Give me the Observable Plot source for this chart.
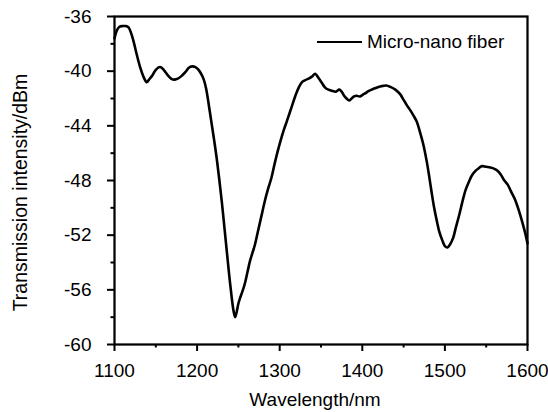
<!DOCTYPE html>
<html>
<head>
<meta charset="utf-8">
<script src="https://cdn.jsdelivr.net/npm/d3@7"></script>
<script src="https://cdn.jsdelivr.net/npm/@observablehq/plot@0.6"></script>
<style>
  html, body { margin: 0; padding: 0; background: #fff; }
  #wrap { position: relative; width: 548px; height: 412px; font-family: "Liberation Sans", Arial, sans-serif; }
  #legend { position: absolute; left: 317px; top: 31px; display: flex; align-items: center; font-size: 19px; color: #000; white-space: nowrap; }
  #legend .sw { display: inline-block; width: 45px; height: 0; border-top: 2.5px solid #000; margin-right: 5px; }
</style>
</head>
<body>
<div id="wrap"><div id="legend"><span class="sw"></span><span>Micro-nano fiber</span></div></div>
<script>
const seriesName = "Micro-nano fiber";
const wavelength = [
  1100,1103,1106,1110,1114,1117,1120,1123,1127,1131,1135,1139,1142,1146,1150,1155,1158,1162,1166,1170,
  1174,1178,1182,1186,1190,1194,1198,1201,1204,1208,1211,1215,1218,1221,1224,1227,1230,1233,1236,1239,
  1242,1244,1246,1248,1250,1252,1255,1258,1261,1264,1267,1270,1273,1276,1279,1282,1286,1290,1293,1297,
  1301,1305,1309,1314,1319,1323,1327,1331,1335,1339,1343,1347,1351,1355,1359,1364,1368,1372,1375,1378,
  1381,1384,1387,1390,1393,1397,1400,1404,1408,1413,1418,1423,1429,1434,1440,1446,1450,1454,1458,1462,
  1466,1470,1474,1478,1481,1484,1487,1490,1493,1497,1500,1503,1506,1510,1513,1517,1521,1525,1529,1533,
  1537,1541,1545,1550,1555,1560,1564,1568,1572,1576,1580,1585,1589,1593,1597,1600
];
const intensity = [
  -37.6,-37.0,-36.75,-36.7,-36.7,-36.8,-37.2,-37.8,-38.8,-39.7,-40.4,-40.8,-40.6,-40.3,-39.9,-39.7,-39.8,-40.1,-40.4,-40.6,
  -40.6,-40.5,-40.3,-40.05,-39.75,-39.65,-39.7,-39.85,-40.1,-40.6,-41.3,-42.8,-44.0,-45.2,-46.5,-48.0,-49.6,-51.4,-53.2,-55.0,
  -56.6,-57.5,-58.0,-57.6,-57.0,-56.6,-56.1,-55.5,-54.7,-53.9,-53.3,-52.7,-51.9,-51.1,-50.3,-49.5,-48.6,-47.8,-47.0,-46.0,
  -45.1,-44.3,-43.6,-42.7,-41.8,-41.2,-40.8,-40.65,-40.55,-40.4,-40.2,-40.5,-40.85,-41.2,-41.35,-41.45,-41.5,-41.35,-41.5,-41.8,
  -42.0,-42.15,-42.0,-41.85,-41.8,-41.85,-41.75,-41.6,-41.45,-41.3,-41.2,-41.1,-41.05,-41.15,-41.35,-41.7,-42.1,-42.5,-42.85,-43.25,
  -43.7,-44.5,-45.4,-46.6,-47.7,-48.9,-50.0,-50.9,-51.7,-52.4,-52.8,-52.9,-52.7,-52.2,-51.5,-50.6,-49.6,-48.7,-48.1,-47.6,
  -47.3,-47.1,-46.95,-47.0,-47.05,-47.15,-47.3,-47.6,-48.0,-48.3,-48.8,-49.4,-50.1,-50.9,-51.8,-52.6
];
const xMajorTicks = [1100, 1200, 1300, 1400, 1500, 1600];
const xMinorTicks = [1150, 1250, 1350, 1450, 1550];
const yMajorTicks = [-60, -56, -52, -48, -44, -40, -36];
const yMinorTicks = [-58, -54, -50, -46, -42, -38];
const xTitle = "Wavelength/nm";
const yTitle = "Transmission intensity/dBm";

const data = wavelength.map((w, i) => ({w, v: intensity[i]}));

const chart = Plot.plot({
  width: 548,
  height: 412,
  marginLeft: 114,
  marginRight: 21,
  marginTop: 16,
  marginBottom: 68,
  style: {fontFamily: "'Liberation Sans', Arial, sans-serif", fontSize: "19px", color: "#000", background: "#fff", overflow: "visible"},
  x: {domain: [1100, 1600]},
  y: {domain: [-60, -36]},
  marks: [
    Plot.axisX({ticks: xMinorTicks, tickSize: 3.5, strokeWidth: 2, text: null, label: null}),
    Plot.axisX({ticks: xMajorTicks, tickSize: 7, strokeWidth: 2, tickPadding: 12, fontSize: 19, tickFormat: d => String(d), label: null}),
    Plot.axisY({ticks: yMinorTicks, tickSize: 3.5, strokeWidth: 2, text: null, label: null}),
    Plot.axisY({ticks: yMajorTicks, tickSize: 7, strokeWidth: 2, tickPadding: 16, fontSize: 19, tickFormat: d => String(d), label: null}),
    Plot.text([xTitle], {frameAnchor: "bottom", textAnchor: "middle", lineAnchor: "top", dy: 48, dx: -6, fontSize: 19, fill: "#000"}),
    Plot.text([yTitle], {frameAnchor: "left", textAnchor: "middle", lineAnchor: "top", rotate: -90, dx: -101, dy: 12, fontSize: 19.5, fill: "#000"}),
    Plot.frame({stroke: "#000", strokeWidth: 2.25}),
    Plot.line(data, {x: "w", y: "v", stroke: "#000", strokeWidth: 2.6, curve: "catmull-rom"})
  ]
});
document.getElementById("wrap").prepend(chart);
</script>
</body>
</html>
